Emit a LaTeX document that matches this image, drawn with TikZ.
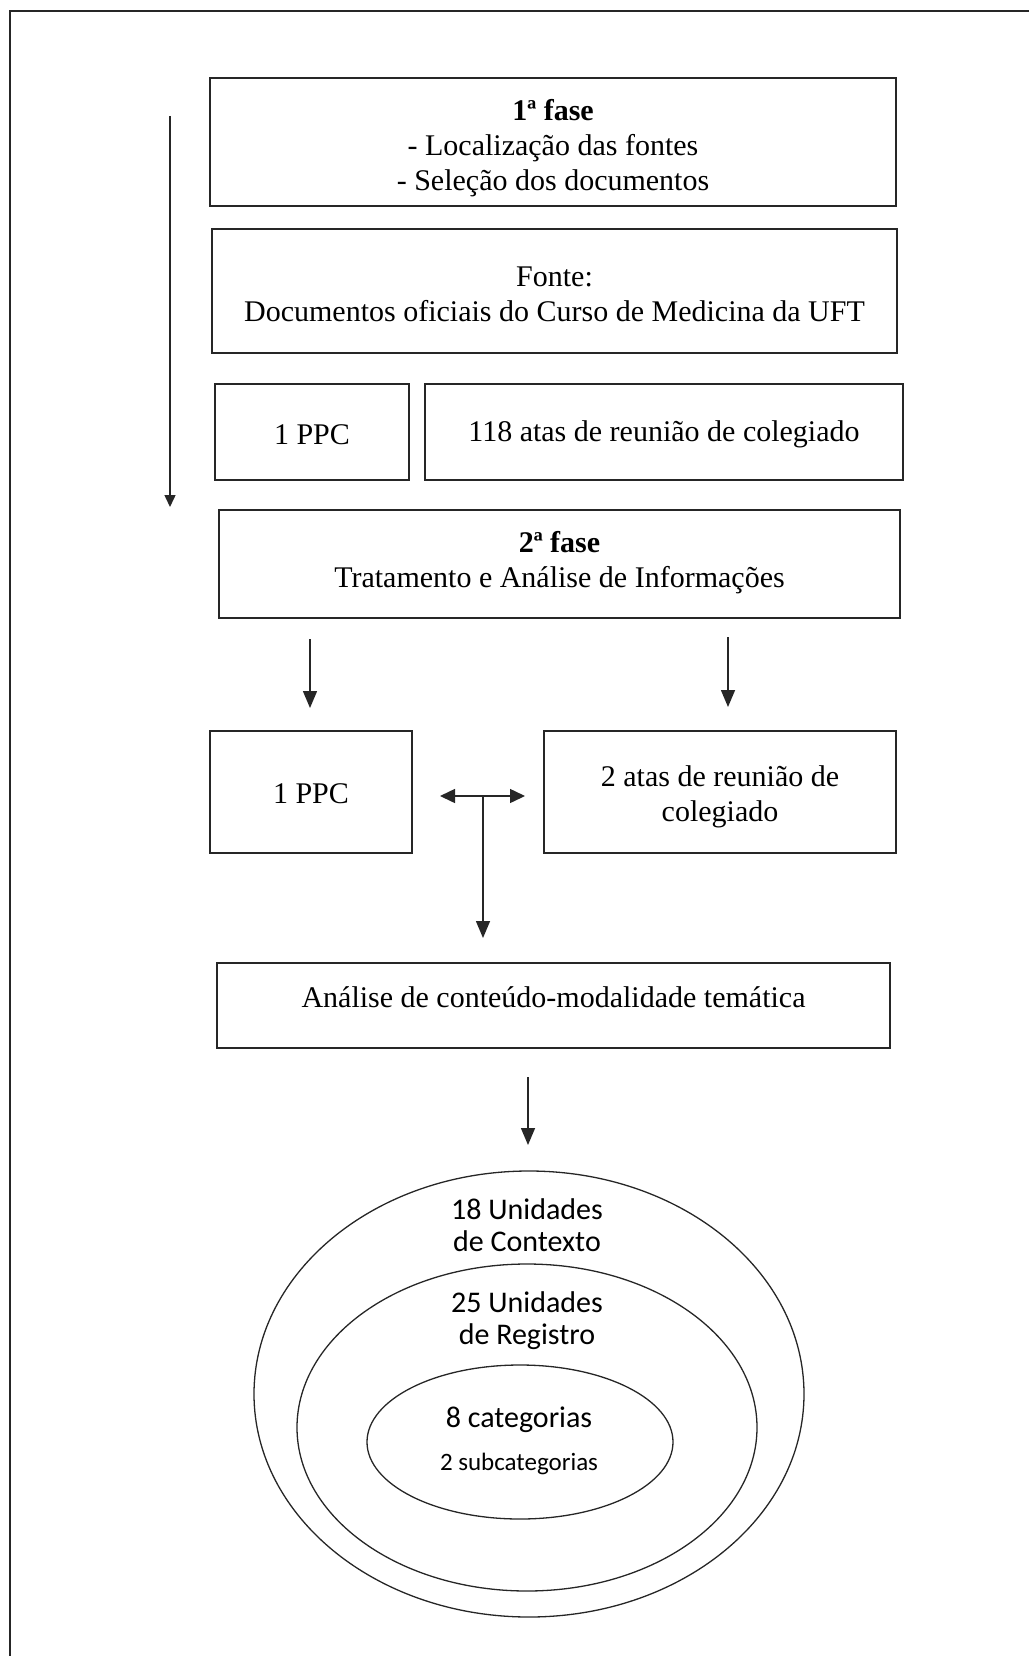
\documentclass[tikz,border=0pt]{standalone}
\usepackage{fontspec}
\setmainfont{Liberation Serif}
\newfontfamily\calib{Carlito}
\usetikzlibrary{arrows.meta,shapes.geometric}
\begin{document}
\begin{tikzpicture}[x=1pt,y=-1pt,
  frameline/.style={line width=1.6pt, draw=black!85},
  box/.style={draw=black!85, line width=1.8pt, inner sep=0pt},
  boxtext/.style={inner sep=0pt, align=center, font=\fontsize{30}{35}\selectfont},
  ell/.style={ellipse, draw=black!85, line width=1.3pt, inner sep=0pt},
  etext/.style={inner sep=0pt, align=center, font=\calib\fontsize{30}{32}\selectfont},
  conn/.style={line width=1.5pt, draw=black!85, -{Triangle[length=17pt,width=14pt]}},
  dconn/.style={line width=1.5pt, draw=black!85, {Triangle[length=15pt,width=14pt]}-{Triangle[length=15pt,width=14pt]}},
  lconn/.style={line width=1.5pt, draw=black!85, -{Triangle[length=12pt,width=11pt]}}
]
\useasboundingbox (0,0) rectangle (1029,1656);
% frame (top and left sides visible)
\draw[frameline] (1029,11) -- (10,11) -- (10,1656);

% first phase
\node[box, minimum width=686pt, minimum height=128pt] (f1) at (553,142) {};
\node[boxtext] (f1t) at (553,148)
  {\textbf{1ª fase}\\- Localização das fontes\\- Seleção dos documentos};
\node[box, minimum width=685pt, minimum height=124pt] (fonte) at (554.5,291) {};
\node[boxtext] (fontet) at (554.5,294)
  {Fonte:\\Documentos oficiais do Curso de Medicina da UFT};
\node[box, minimum width=194pt, minimum height=96pt] (ppcA) at (312,432) {};
\node[boxtext] (ppcAt) at (312,434.5) {1 PPC};
\node[box, minimum width=478pt, minimum height=96pt] (atasA) at (664,432) {};
\node[boxtext] (atasAt) at (664,434.5) {118 atas de reunião de colegiado};

% second phase
\node[box, minimum width=681pt, minimum height=108pt] (f2) at (559.5,564) {};
\node[boxtext] (f2t) at (559.5,563)
  {\textbf{2ª fase}\\Tratamento e Análise de Informações};
\node[box, minimum width=202pt, minimum height=122pt] (ppcB) at (311,792) {};
\node[boxtext] (ppcBt) at (311,794) {1 PPC};
\node[box, minimum width=352pt, minimum height=122pt] (atasB) at (720,792) {};
\node[boxtext] (atasBt) at (720,797) {2 atas de reunião de\\colegiado};
\node[box, minimum width=673pt, minimum height=85pt] (anal) at (553.5,1005.5) {};
\node[boxtext] (analt) at (553.5,997) {Análise de conteúdo-modalidade temática};

% ellipses
\node[ell, minimum width=550pt, minimum height=446pt] (eout) at (529,1394) {};
\node[ell, minimum width=460pt, minimum height=327pt] (emid) at (527,1427.5) {};
\node[ell, minimum width=306pt, minimum height=154pt] (ein) at (520,1442) {};
\node[etext] (t18) at (527,1225) {18 Unidades\\de Contexto};
\node[etext] (t25) at (527,1321) {25 Unidades\\de Registro};
\node[etext] (t8) at (519,1420) {8 categorias};
\node[etext, font=\calib\fontsize{25}{28}\selectfont] (t2) at (519,1464) {2 subcategorias};

% connector end points
\coordinate (lA) at (170,116);
\coordinate (lB) at (170,507);
\coordinate (a1s) at (310,639);
\coordinate (a1e) at (310,708);
\coordinate (a2s) at (728,637);
\coordinate (a2e) at (728,707);
\coordinate (dL) at (440,796);
\coordinate (dR) at (525,796);
\coordinate (dM) at (483,796);
\coordinate (dE) at (483,938);
\coordinate (eS) at (528,1077);
\coordinate (eE) at (528,1145);

% connectors
\draw[lconn] (lA) -- (lB);
\draw[conn] (a1s) -- (a1e);
\draw[conn] (a2s) -- (a2e);
\draw[dconn] (dL) -- (dR);
\draw[conn] (dM) -- (dE);
\draw[conn] (eS) -- (eE);
\end{tikzpicture}
\end{document}
